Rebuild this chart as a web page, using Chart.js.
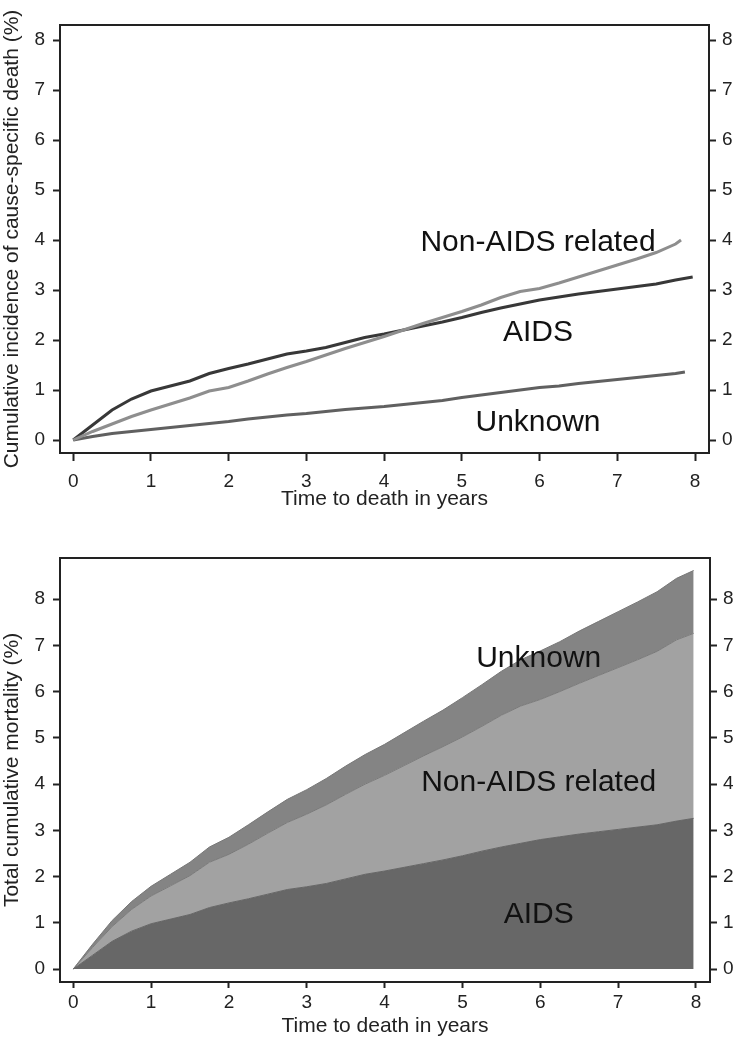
<!DOCTYPE html>
<html><head><meta charset="utf-8">
<script src="https://cdn.jsdelivr.net/npm/chart.js@4/dist/chart.umd.min.js"></script>
<style>
html,body{margin:0;padding:0;background:#fff;}
#c1{position:absolute;left:0;top:0;}
#c2{position:absolute;left:0;top:520px;}
</style></head><body>
<canvas id="c1" width="741" height="520"></canvas>
<canvas id="c2" width="741" height="530"></canvas>
<script>
// ---- data ----
const years   = [0,0.25,0.5,0.75,1,1.25,1.5,1.75,2,2.25,2.5,2.75,3,3.25,3.5,3.75,4,4.25,4.5,4.75,5,5.25,5.5,5.75,6,6.25,6.5,6.75,7,7.25,7.5,7.75];
const aids    = [0,0.30,0.60,0.82,0.98,1.08,1.18,1.33,1.43,1.52,1.62,1.72,1.78,1.85,1.95,2.05,2.12,2.20,2.28,2.36,2.45,2.55,2.64,2.72,2.80,2.86,2.92,2.97,3.02,3.07,3.12,3.20];
const nonAids = [0,0.17,0.32,0.47,0.60,0.72,0.84,0.98,1.05,1.18,1.32,1.45,1.57,1.70,1.83,1.95,2.07,2.20,2.33,2.45,2.57,2.70,2.85,2.97,3.03,3.14,3.26,3.38,3.50,3.62,3.75,3.92];
const unknown = [0,0.07,0.13,0.17,0.21,0.25,0.29,0.33,0.37,0.42,0.46,0.50,0.53,0.57,0.61,0.64,0.67,0.71,0.75,0.79,0.85,0.90,0.95,1.00,1.05,1.08,1.13,1.17,1.21,1.25,1.29,1.33];
const endYears  = [7.97, 7.82, 7.87];   // last follow-up time of AIDS, Non-AIDS, Unknown
const endValues = [3.26, 4.00, 1.36];
const seriesNames = ['AIDS', 'Non-AIDS related', 'Unknown'];
const xTicks = [0,1,2,3,4,5,6,7,8];
const yTicks = [0,1,2,3,4,5,6,7,8];
const labelX = [5.98, 5.98, 5.98];
const topLabelY = [2.14, 3.94, 0.34];
const bottomLabelY = [1.17, 4.04, 6.72];

const FAM = "'Liberation Sans', Arial, sans-serif";
const INK = '#222';

function pts(vals, ex, ey) {
  return years.map((x, i) => ({x: x, y: vals[i]})).concat([{x: ex, y: ey}]);
}

const framePlugin = {
  id: 'frame',
  afterDatasetsDraw(chart) {
    const {ctx, chartArea: a} = chart;
    ctx.save();
    ctx.strokeStyle = INK; ctx.lineWidth = 2;
    ctx.strokeRect(a.left, a.top, a.right - a.left, a.bottom - a.top);
    ctx.restore();
  }
};
function labelPlugin(ys) {
  return {
    id: 'catLabels',
    afterDatasetsDraw(chart) {
      const {ctx, scales} = chart;
      ctx.save();
      ctx.fillStyle = '#111';
      ctx.font = '30px ' + FAM;
      ctx.textAlign = 'center'; ctx.textBaseline = 'middle';
      seriesNames.forEach((n, i) => {
        ctx.fillText(n, scales.x.getPixelForValue(labelX[i]), scales.y.getPixelForValue(ys[i]));
      });
      ctx.restore();
    }
  };
}

function makeScales(o) {
  const yAxis = (pos, w, pad) => ({
    type: 'linear', position: pos, min: o.yMin, max: o.yMax, stacked: o.stacked,
    afterBuildTicks: s => { s.ticks = yTicks.map(v => ({value: v})); },
    afterFit: s => { s.width = w; },
    grid: {drawOnChartArea: false, tickLength: 7, tickColor: INK, tickWidth: 2},
    border: {display: false},
    ticks: {color: INK, font: {size: 19, family: FAM}, padding: pad},
    title: pos === 'left' ? {display: true, text: o.yTitle, color: INK, font: {size: 21, family: FAM}, padding: {top: 0, bottom: 0}} : {display: false}
  });
  return {
    x: {
      type: 'linear', position: 'bottom', min: -0.17, max: 8.18,
      afterBuildTicks: s => { s.ticks = xTicks.map(v => ({value: v})); },
      afterFit: s => { s.height = o.xH; },
      grid: {drawOnChartArea: false, tickLength: o.xTick, tickColor: INK, tickWidth: 2},
      border: {display: false},
      ticks: {color: INK, font: {size: 19, family: FAM}, padding: o.xPad, maxRotation: 0, autoSkip: false},
      title: {display: true, text: 'Time to death in years', color: INK, font: {size: 21, family: FAM}, padding: {top: 0, bottom: o.xTitlePad}}
    },
    y: yAxis('left', 60, 8),
    y2: yAxis('right', o.rightW, 6)
  };
}

const common = {
  responsive: false, animation: false, devicePixelRatio: 1,
  plugins: {legend: {display: false}, tooltip: {enabled: false}},
  elements: {point: {radius: 0}, line: {tension: 0}}
};

// ---- top: cumulative incidence lines ----
new Chart(document.getElementById('c1'), {
  type: 'line',
  data: {
    datasets: [
      {label: seriesNames[1], data: pts(nonAids, endYears[1], endValues[1]), borderColor: '#8e8e8e', borderWidth: 3, fill: false, yAxisID: 'y'},
      {label: seriesNames[0], data: pts(aids, endYears[0], endValues[0]), borderColor: '#383838', borderWidth: 3, fill: false, yAxisID: 'y'},
      {label: seriesNames[2], data: pts(unknown, endYears[2], endValues[2]), borderColor: '#606060', borderWidth: 3, fill: false, yAxisID: 'y'}
    ]
  },
  options: Object.assign({}, common, {
    layout: {padding: {top: 25, left: 0, right: 0, bottom: 0}},
    scales: makeScales({yMin: -0.26, yMax: 8.3, yTitle: 'Cumulative incidence of cause-specific death (%)', xH: 67, xTick: 8, xPad: 9, xTitlePad: 8, rightW: 32, stacked: false})
  }),
  plugins: [framePlugin, labelPlugin(topLabelY)]
});

// ---- bottom: stacked total cumulative mortality ----
new Chart(document.getElementById('c2'), {
  type: 'line',
  data: {
    datasets: [
      {label: seriesNames[0], data: pts(aids, endYears[0], endValues[0]), backgroundColor: '#676767', borderColor: '#666666', borderWidth: 1, fill: 'origin', yAxisID: 'y'},
      {label: seriesNames[1], data: pts(nonAids, endYears[0], endValues[1]), backgroundColor: '#a2a2a2', borderColor: '#7a7a7a', borderWidth: 1, fill: '-1', yAxisID: 'y'},
      {label: seriesNames[2], data: pts(unknown, endYears[0], endValues[2]), backgroundColor: '#848484', borderColor: '#777777', borderWidth: 1, fill: '-1', yAxisID: 'y'}
    ]
  },
  options: Object.assign({}, common, {
    layout: {padding: {top: 38, left: 0, right: 0, bottom: 0}},
    scales: makeScales({yMin: -0.28, yMax: 8.89, yTitle: 'Total cumulative mortality (%)', xH: 68, xTick: 6, xPad: 3, xTitlePad: 11, rightW: 31, stacked: true})
  }),
  plugins: [framePlugin, labelPlugin(bottomLabelY)]
});
</script>
</body></html>
